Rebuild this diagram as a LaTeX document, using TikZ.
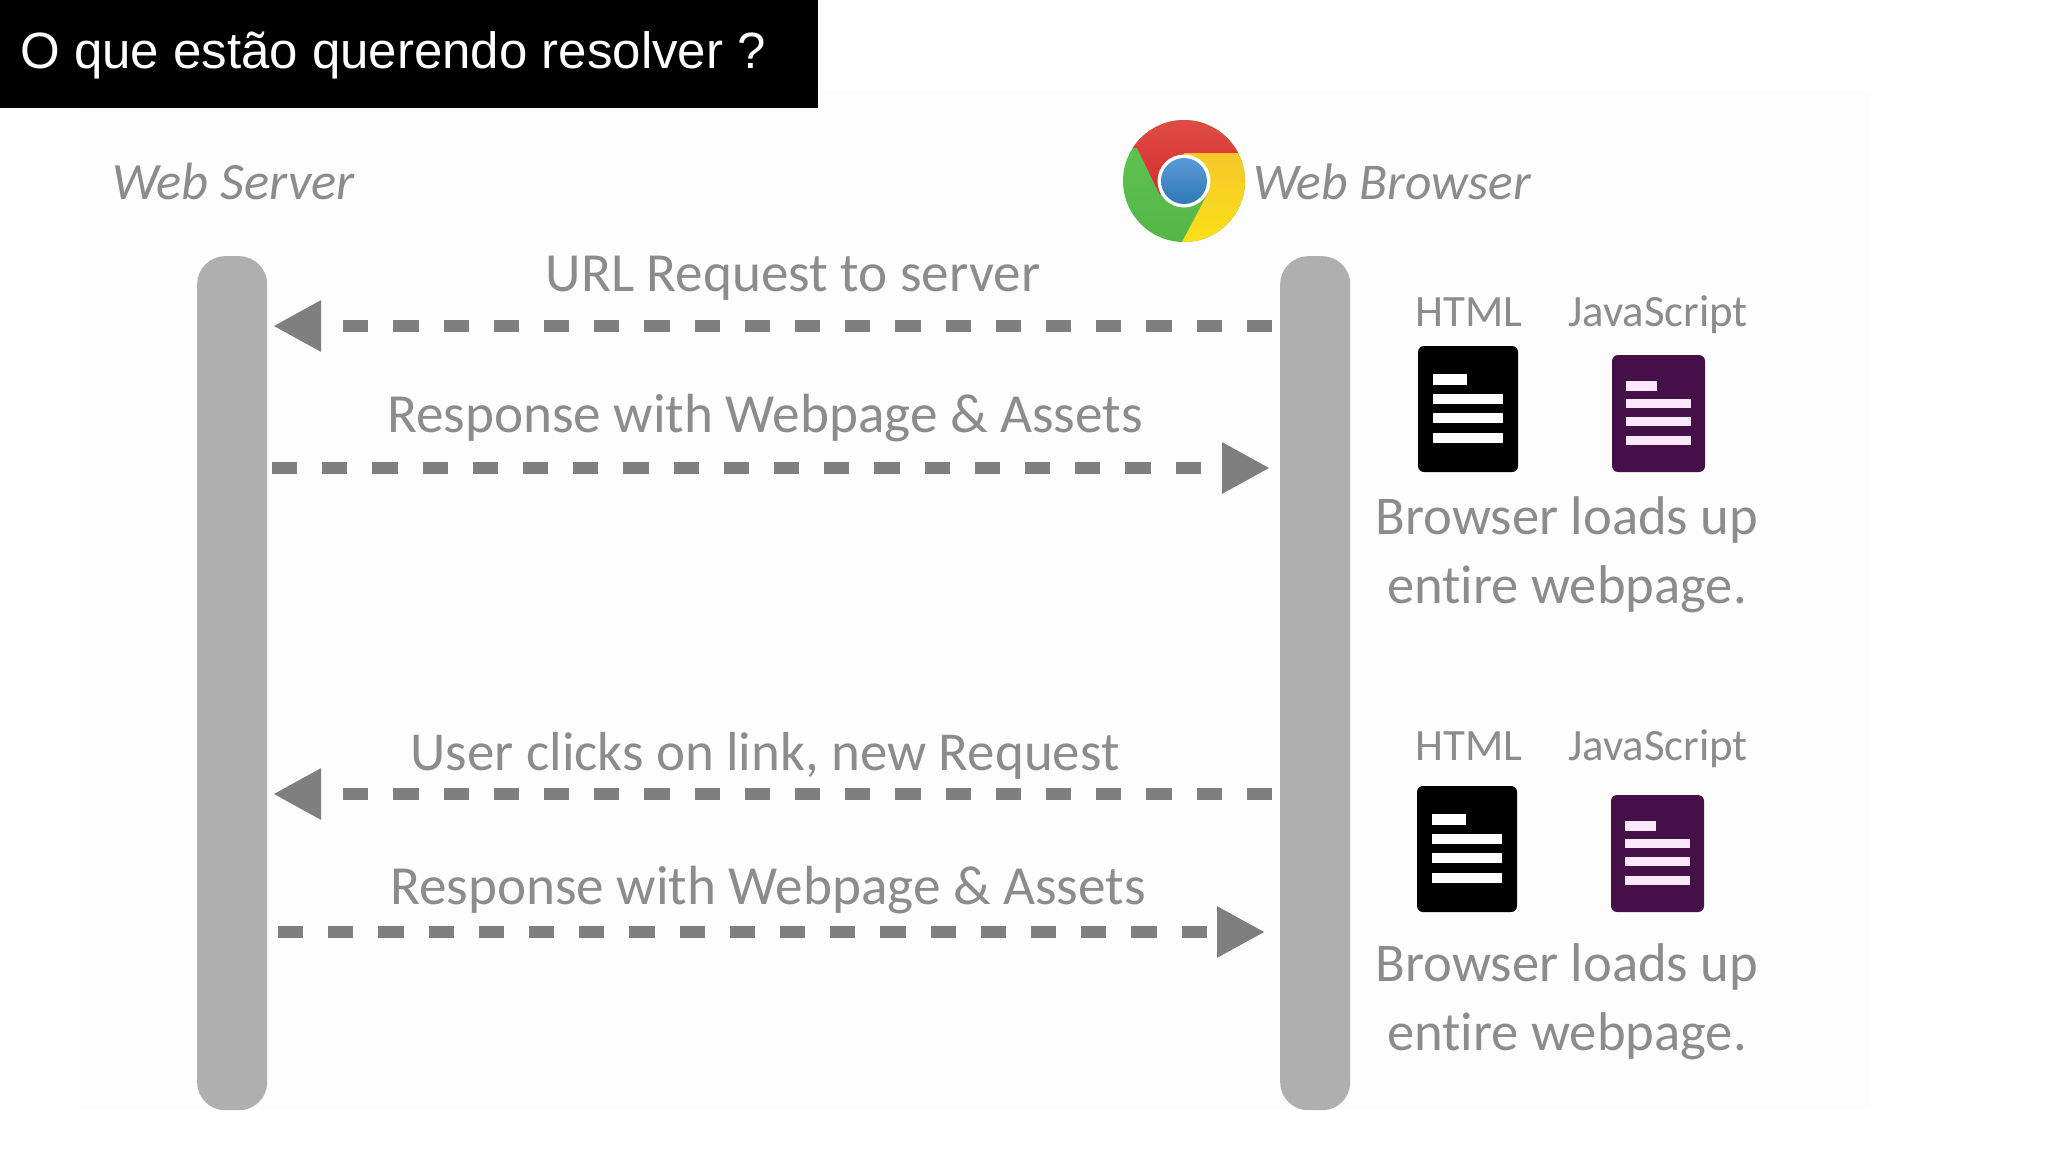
\documentclass[tikz,border=0pt]{standalone}
\usepackage{fontspec}
\setmainfont{Carlito}[Ligatures=NoCommon]
\newfontfamily\titlefont{Liberation Sans}
\usetikzlibrary{arrows.meta}
\definecolor{barc}{HTML}{AFAFAF}
\definecolor{flowc}{HTML}{7F7F7F}
\definecolor{txtc}{HTML}{8C8C8C}
\definecolor{jsc}{HTML}{450F48}
\definecolor{jsl}{HTML}{FBE8FB}
\definecolor{bgc}{HTML}{FDFDFD}
\definecolor{credA}{HTML}{E2504A}
\definecolor{credB}{HTML}{D42B2B}
\definecolor{cyelA}{HTML}{F7C72A}
\definecolor{cyelB}{HTML}{FBE216}
\definecolor{cgrnA}{HTML}{62C653}
\definecolor{cgrnB}{HTML}{52B546}
\definecolor{cblA}{HTML}{5B9BD5}
\definecolor{cblB}{HTML}{2F78B8}
\tikzset{
 x=1pt,y=-1pt,
 bar/.style={fill=barc,draw=none,rounded corners=28pt,minimum width=70pt,minimum height=854pt,inner sep=0pt,anchor=north west},
 flow/.style={draw=flowc,line width=12pt,dash pattern=on 25.2pt off 25pt,
   -{Rectangle[length=0.01pt,width=0.01pt,sep=21pt] Triangle[length=48pt,width=48pt]}},
 lab/.style={text=txtc,font=\fontsize{55.2}{55.2}\selectfont,anchor=base,inner sep=0pt},
 small/.style={text=txtc,font=\fontsize{44.8}{44.8}\selectfont,anchor=base,inner sep=0pt},
 head/.style={text=txtc,font=\itshape\fontsize{52.5}{52.5}\selectfont,anchor=base west,inner sep=0pt},
 note/.style={text=txtc,font=\fontsize{54.6}{54.6}\selectfont,anchor=base,inner sep=0pt},
}
\begin{document}
\begin{tikzpicture}
\useasboundingbox (0,0) rectangle (2048,1152);
\fill[white] (0,0) rectangle (2048,1152);
\fill[bgc] (80,90) rectangle (1870,1110);
% title
\node[fill=black,minimum width=818pt,minimum height=108pt,inner sep=0pt,anchor=north west] (titlebox) at (0,0) {};
\node[text=white,font=\titlefont\fontsize{51}{51}\selectfont,anchor=base west,inner sep=0pt] (title) at (20,68) {O que estão querendo resolver ?};
% headers
\node[head] (srvlabel) at (112,199) {Web Server};
\node[head,font=\itshape\fontsize{51.5}{51.5}\selectfont] (brwlabel) at (1253,199) {Web Browser};
% lifelines
\node[bar] (srv) at (197,256) {};
\node[bar] (brw) at (1280,256) {};
% chrome logo
\begin{scope}[shift={(1184,181)}]
 \begin{scope}
  \clip (0,0) circle[radius=61pt];
  \shade[top color=cgrnA,bottom color=cgrnB] (-70,-70) rectangle (70,70);
  \shade[top color=credA,bottom color=credB] (-70,-70) -- (70,-70) -- (70,-28) -- (0,-28) -- (-24,14) -- (-47,-33) -- (-70,-33) -- cycle;
  \shade[top color=cyelA,bottom color=cyelB] (70,-28) -- (70,70) -- (-2,70) -- (-2,61) -- (24,12) -- (0,-28) -- cycle;
 \end{scope}
 \fill[white] (0,0) circle[radius=26.5pt];
 \shade[top color=cblA,bottom color=cblB] (0,0) circle[radius=23pt];
\end{scope}
% flows
\coordinate (a1) at (1272,326); \coordinate (b1) at (273,326);
\coordinate (a2) at (272,468);  \coordinate (b2) at (1270,468);
\coordinate (a3) at (1272,794); \coordinate (b3) at (273,794);
\coordinate (a4) at (278,932);  \coordinate (b4) at (1265,932);
\draw[flow] (a1) -- (b1);
\draw[flow] (a2) -- (b2);
\draw[flow] (a3) -- (b3);
\draw[flow] (a4) -- (b4);
\node[lab] (l1) at (793,291) {URL Request to server};
\node[lab] (l2) at (765,432) {Response with Webpage \& Assets};
\node[lab,font=\fontsize{54.9}{54.9}\selectfont] (l3) at (765,770) {User clicks on link, new Request};
\node[lab] (l4) at (768,904) {Response with Webpage \& Assets};
% documents
\foreach \dy/\dx in {0/0,440/-1}{
 \begin{scope}[shift={(\dx,\dy)}]
  \fill[black,rounded corners=6pt] (1418,346) rectangle (1518,472);
  \fill[white] (1433,374) rectangle (1467,385);
  \fill[white] (1433,394) rectangle (1503,404);
  \fill[white] (1433,413) rectangle (1503,423);
  \fill[white] (1433,433) rectangle (1503,443);
  \fill[jsc,rounded corners=6pt] (1612,355) rectangle (1705,472);
  \fill[jsl] (1626,381) rectangle (1657,391);
  \fill[jsl] (1626,399) rectangle (1691,408);
  \fill[jsl] (1626,417) rectangle (1691,426);
  \fill[jsl] (1626,436) rectangle (1691,445);
 \end{scope}
}
\node[small] (h1) at (1469,326) {HTML};
\node[small] (j1) at (1658,326) {JavaScript};
\node[small] (h2) at (1469,760) {HTML};
\node[small] (j2) at (1658,760) {JavaScript};
\node[note] (n1) at (1567,534) {Browser loads up};
\node[note] (n2) at (1567,603) {entire webpage.};
\node[note] (n3) at (1567,981) {Browser loads up};
\node[note] (n4) at (1567,1050) {entire webpage.};
\end{tikzpicture}
\end{document}
